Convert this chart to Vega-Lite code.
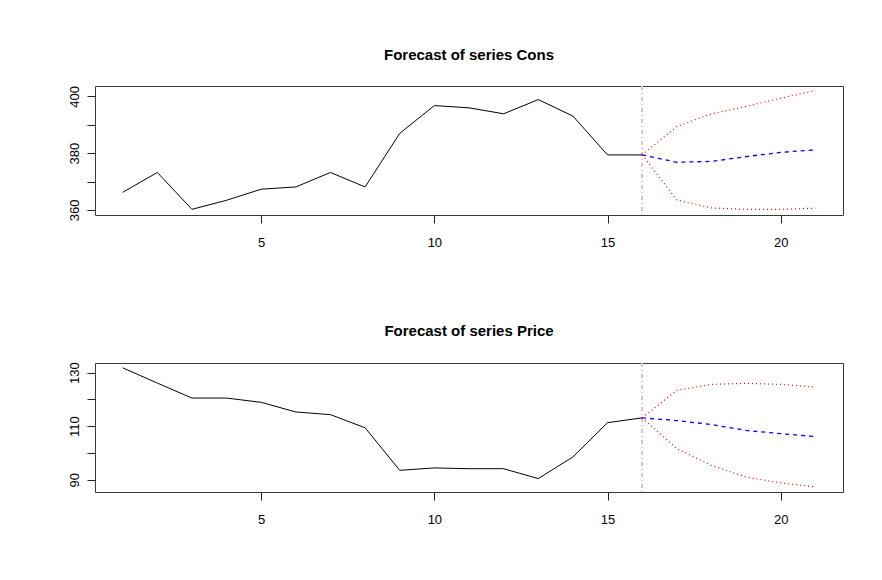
{
  "$schema": "https://vega.github.io/schema/vega-lite/v6.json",
  "background": "white",
  "padding": {"left": 67, "top": 47, "right": 10, "bottom": 10},
  "datasets": {
    "cons": [
      {"t": 1, "value": 366.2, "kind": "obs"},
      {"t": 2, "value": 373.2, "kind": "obs"},
      {"t": 3, "value": 360.2, "kind": "obs"},
      {"t": 4, "value": 363.4, "kind": "obs"},
      {"t": 5, "value": 367.3, "kind": "obs"},
      {"t": 6, "value": 368.1, "kind": "obs"},
      {"t": 7, "value": 373.2, "kind": "obs"},
      {"t": 8, "value": 368.1, "kind": "obs"},
      {"t": 9, "value": 387.0, "kind": "obs"},
      {"t": 10, "value": 396.8, "kind": "obs"},
      {"t": 11, "value": 396.0, "kind": "obs"},
      {"t": 12, "value": 393.9, "kind": "obs"},
      {"t": 13, "value": 398.9, "kind": "obs"},
      {"t": 14, "value": 393.1, "kind": "obs"},
      {"t": 15, "value": 379.4, "kind": "obs"},
      {"t": 16, "value": 379.4, "kind": "obs"},
      {"t": 16, "value": 379.4, "kind": "fcst"},
      {"t": 17, "value": 376.8, "kind": "fcst"},
      {"t": 18, "value": 377.1, "kind": "fcst"},
      {"t": 19, "value": 378.8, "kind": "fcst"},
      {"t": 20, "value": 380.3, "kind": "fcst"},
      {"t": 21, "value": 381.2, "kind": "fcst"},
      {"t": 16, "value": 379.4, "kind": "upper"},
      {"t": 17, "value": 389.4, "kind": "upper"},
      {"t": 18, "value": 393.9, "kind": "upper"},
      {"t": 19, "value": 396.5, "kind": "upper"},
      {"t": 20, "value": 399.4, "kind": "upper"},
      {"t": 21, "value": 402.1, "kind": "upper"},
      {"t": 16, "value": 379.4, "kind": "lower"},
      {"t": 17, "value": 363.5, "kind": "lower"},
      {"t": 18, "value": 360.7, "kind": "lower"},
      {"t": 19, "value": 360.2, "kind": "lower"},
      {"t": 20, "value": 360.2, "kind": "lower"},
      {"t": 21, "value": 360.6, "kind": "lower"}
    ],
    "price": [
      {"t": 1, "value": 131.8, "kind": "obs"},
      {"t": 2, "value": 126.1, "kind": "obs"},
      {"t": 3, "value": 120.5, "kind": "obs"},
      {"t": 4, "value": 120.5, "kind": "obs"},
      {"t": 5, "value": 118.9, "kind": "obs"},
      {"t": 6, "value": 115.3, "kind": "obs"},
      {"t": 7, "value": 114.3, "kind": "obs"},
      {"t": 8, "value": 109.4, "kind": "obs"},
      {"t": 9, "value": 93.5, "kind": "obs"},
      {"t": 10, "value": 94.4, "kind": "obs"},
      {"t": 11, "value": 94.1, "kind": "obs"},
      {"t": 12, "value": 94.1, "kind": "obs"},
      {"t": 13, "value": 90.4, "kind": "obs"},
      {"t": 14, "value": 98.5, "kind": "obs"},
      {"t": 15, "value": 111.3, "kind": "obs"},
      {"t": 16, "value": 113.1, "kind": "obs"},
      {"t": 16, "value": 113.1, "kind": "fcst"},
      {"t": 17, "value": 112.1, "kind": "fcst"},
      {"t": 18, "value": 110.6, "kind": "fcst"},
      {"t": 19, "value": 108.4, "kind": "fcst"},
      {"t": 20, "value": 107.2, "kind": "fcst"},
      {"t": 21, "value": 106.1, "kind": "fcst"},
      {"t": 16, "value": 113.1, "kind": "upper"},
      {"t": 17, "value": 123.4, "kind": "upper"},
      {"t": 18, "value": 125.6, "kind": "upper"},
      {"t": 19, "value": 126.0, "kind": "upper"},
      {"t": 20, "value": 125.6, "kind": "upper"},
      {"t": 21, "value": 124.6, "kind": "upper"},
      {"t": 16, "value": 113.1, "kind": "lower"},
      {"t": 17, "value": 101.6, "kind": "lower"},
      {"t": 18, "value": 95.3, "kind": "lower"},
      {"t": 19, "value": 91.0, "kind": "lower"},
      {"t": 20, "value": 88.8, "kind": "lower"},
      {"t": 21, "value": 87.3, "kind": "lower"}
    ]
  },
  "vconcat": [
    {
      "title": "Forecast of series Cons",
      "width": 748,
      "height": 129,
      "data": {"name": "cons"},
      "encoding": {
        "x": {"field": "t", "type": "quantitative", "title": null,
              "scale": {"domain": [0.2, 21.8], "nice": false, "zero": false},
              "axis": {"values": [5, 10, 15, 20]}},
        "y": {"field": "value", "type": "quantitative", "title": null,
              "scale": {"domain": [358.2, 403.7], "nice": false, "zero": false},
              "axis": {"values": [360, 370, 380, 390, 400],
                       "labelExpr": "datum.value % 20 == 0 ? datum.label : ''"}}
      },
      "layer": [
        {"mark": {"type": "rule", "color": "#cccccc", "strokeWidth": 1, "strokeDash": [4, 3, 1, 3]},
         "encoding": {"x": {"datum": 16}, "y": null}},
        {"transform": [{"filter": "datum.kind == 'obs'"}],
         "mark": {"type": "line", "color": "black", "strokeWidth": 1}},
        {"transform": [{"filter": "datum.kind == 'fcst'"}],
         "mark": {"type": "line", "color": "blue", "strokeWidth": 1.3, "strokeDash": [4, 4]}},
        {"transform": [{"filter": "datum.kind == 'upper'"}],
         "mark": {"type": "line", "color": "red", "strokeWidth": 1.2, "strokeDash": [1, 3]}},
        {"transform": [{"filter": "datum.kind == 'lower'"}],
         "mark": {"type": "line", "color": "red", "strokeWidth": 1.2, "strokeDash": [1, 3]}}
      ]
    },
    {
      "title": "Forecast of series Price",
      "width": 748,
      "height": 129,
      "data": {"name": "price"},
      "encoding": {
        "x": {"field": "t", "type": "quantitative", "title": null,
              "scale": {"domain": [0.2, 21.8], "nice": false, "zero": false},
              "axis": {"values": [5, 10, 15, 20]}},
        "y": {"field": "value", "type": "quantitative", "title": null,
              "scale": {"domain": [85.4, 133.6], "nice": false, "zero": false},
              "axis": {"values": [90, 100, 110, 120, 130],
                       "labelExpr": "(datum.value - 90) % 20 == 0 ? datum.label : ''"}}
      },
      "layer": [
        {"mark": {"type": "rule", "color": "#cccccc", "strokeWidth": 1, "strokeDash": [4, 3, 1, 3]},
         "encoding": {"x": {"datum": 16}, "y": null}},
        {"transform": [{"filter": "datum.kind == 'obs'"}],
         "mark": {"type": "line", "color": "black", "strokeWidth": 1}},
        {"transform": [{"filter": "datum.kind == 'fcst'"}],
         "mark": {"type": "line", "color": "blue", "strokeWidth": 1.3, "strokeDash": [4, 4]}},
        {"transform": [{"filter": "datum.kind == 'upper'"}],
         "mark": {"type": "line", "color": "red", "strokeWidth": 1.2, "strokeDash": [1, 3]}},
        {"transform": [{"filter": "datum.kind == 'lower'"}],
         "mark": {"type": "line", "color": "red", "strokeWidth": 1.2, "strokeDash": [1, 3]}}
      ]
    }
  ],
  "spacing": 148,
  "bounds": "flush",
  "config": {
    "font": "Liberation Sans",
    "view": {"stroke": "#3a3a3a", "strokeWidth": 1},
    "title": {"fontSize": 15, "fontWeight": "bold", "color": "black", "anchor": "middle", "baseline": "bottom", "offset": 23},
    "axis": {
      "grid": false,
      "domain": false,
      "ticks": true,
      "tickColor": "#222",
      "tickSize": 8,
      "labelFontSize": 13,
      "labelColor": "black",
      "labelFont": "Liberation Sans"
    },
    "axisX": {"labelPadding": 13},
    "axisY": {"labelAngle": -90, "labelAlign": "center", "labelBaseline": "bottom", "labelPadding": 6}
  }
}
